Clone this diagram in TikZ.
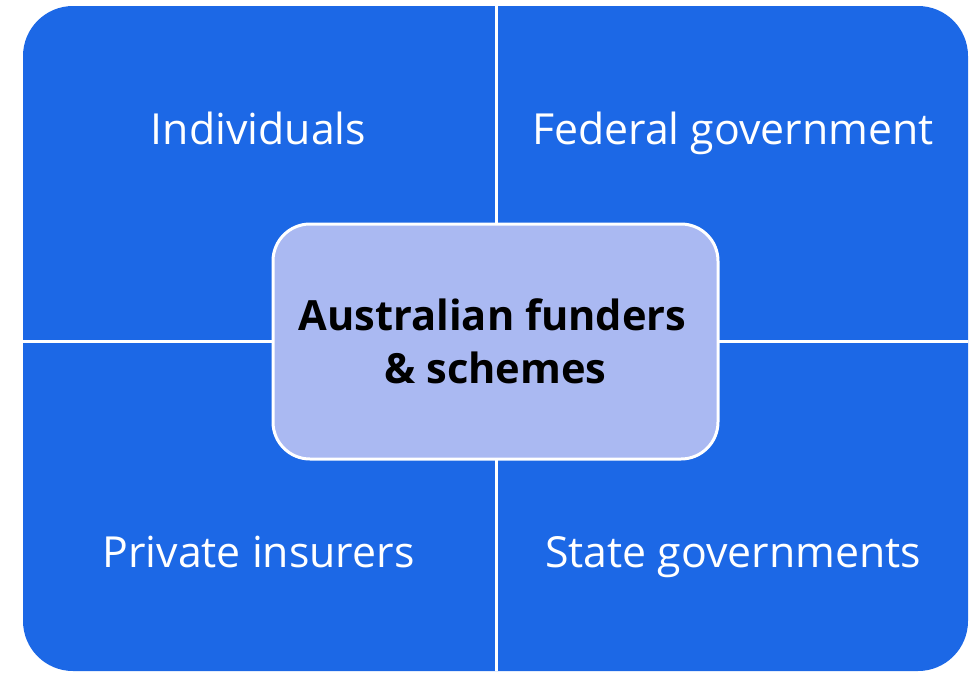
\documentclass[tikz,border=0pt]{standalone}
\usepackage{fontspec}
\setmainfont{Open Sans}
\definecolor{qblue}{HTML}{1C68E6}
\definecolor{cfill}{HTML}{AAB9F2}
\begin{document}
\begin{tikzpicture}[x=1pt,y=-1pt,
  quadlabel/.style={text=white,font=\fontsize{42.8}{50}\selectfont,anchor=base,inner sep=0pt},
  centertext/.style={anchor=base,inner sep=0pt,font=\bfseries\fontsize{41.6}{50}\selectfont},
  centerbox/.style={draw=white,line width=3pt,fill=cfill,rounded corners=37pt},
  divider/.style={draw=white,line width=3pt}]
\useasboundingbox (0,0) rectangle (972,673);
\fill[qblue,rounded corners=50pt] (23,6) rectangle (968,671);
\draw[divider] (496.5,6) -- (496.5,671);
\draw[divider] (23,341.5) -- (968,341.5);
\node[centerbox,minimum width=445pt,minimum height=235pt] (center) at (495.5,341.5) {};
\node[quadlabel] (ind) at (258.5,144) {Individuals};
\node[quadlabel] (fed) at (733,144) {Federal government};
\node[quadlabel] (priv) at (258.5,567) {Private insurers};
\node[quadlabel] (state) at (733,567) {State governments};
\node[centertext] (t1) at (492.5,330) {Australian funders};
\node[centertext] (t2) at (495.5,383) {\& schemes};
\end{tikzpicture}
\end{document}
